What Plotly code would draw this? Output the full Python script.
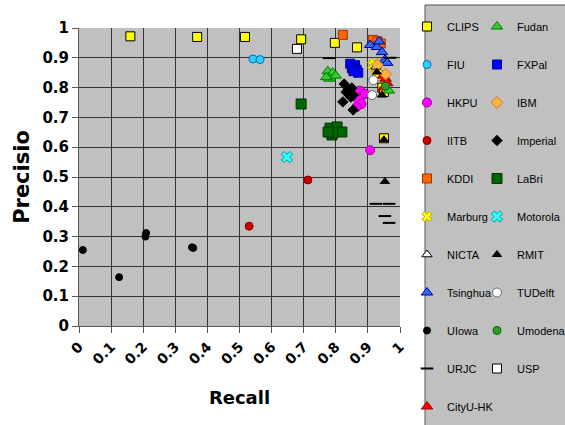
import plotly.graph_objects as go

# ---------------- data (recall, precision) ----------------
clips_recall = [0.160, 0.368, 0.517, 0.692, 0.797, 0.866, 0.950, 0.945, 0.950]
clips_precision = [0.972, 0.970, 0.970, 0.962, 0.950, 0.935, 0.630, 0.800, 0.785]

fudan_recall = [0.775, 0.790, 0.780, 0.800, 0.770, 0.965]
fudan_precision = [0.855, 0.850, 0.830, 0.840, 0.835, 0.790]

fiu_recall = [0.542, 0.564]
fiu_precision = [0.896, 0.894]

fxpal_recall = [0.845, 0.860, 0.850, 0.865, 0.870, 0.855]
fxpal_precision = [0.880, 0.875, 0.865, 0.860, 0.850, 0.855]

hkpu_recall = [0.875, 0.885, 0.870, 0.880, 0.865, 0.890, 0.907]
hkpu_precision = [0.790, 0.775, 0.760, 0.745, 0.735, 0.780, 0.590]

ibm_recall = [0.930, 0.955]
ibm_precision = [0.876, 0.845]

iitb_recall = [0.530, 0.713]
iitb_precision = [0.335, 0.490]

imperial_recall = [0.826, 0.838, 0.832, 0.850, 0.854, 0.822, 0.847, 0.854]
imperial_precision = [0.812, 0.792, 0.785, 0.799, 0.775, 0.752, 0.768, 0.725]

kddi_recall = [0.822, 0.915, 0.930, 0.940]
kddi_precision = [0.977, 0.960, 0.955, 0.948]

labri_recall = [0.692, 0.782, 0.804, 0.819, 0.788, 0.791, 0.776]
labri_precision = [0.745, 0.664, 0.668, 0.651, 0.641, 0.648, 0.651]

marburg_recall = [0.915, 0.925, 0.930, 0.935, 0.920]
marburg_precision = [0.875, 0.860, 0.845, 0.835, 0.880]

motorola_recall = [0.648]
motorola_precision = [0.567]

nicta_recall = [0.925]
nicta_precision = [0.870]

rmit_recall = [0.950, 0.953, 0.928, 0.944]
rmit_precision = [0.625, 0.485, 0.852, 0.775]

tsinghua_recall = [0.907, 0.928, 0.944, 0.953, 0.960, 0.935]
tsinghua_precision = [0.943, 0.936, 0.919, 0.893, 0.883, 0.955]

tudelft_recall = [0.917, 0.913]
tudelft_precision = [0.825, 0.775]

uiowa_recall = [0.012, 0.125, 0.207, 0.209, 0.352, 0.356]
uiowa_precision = [0.255, 0.164, 0.300, 0.312, 0.264, 0.262]

umodena_recall = [0.955]
umodena_precision = [0.805]

urjc_recall = [0.779, 0.969, 0.925, 0.966, 0.953, 0.966]
urjc_precision = [0.899, 0.900, 0.410, 0.410, 0.369, 0.346]

usp_recall = [0.679]
usp_precision = [0.930]

cityu_recall = [0.947, 0.955, 0.960, 0.950]
cityu_precision = [0.840, 0.830, 0.815, 0.800]

x_ticks = [0, 0.1, 0.2, 0.3, 0.4, 0.5, 0.6, 0.7, 0.8, 0.9, 1]
x_labels = ["0", "0.1", "0.2", "0.3", "0.4", "0.5", "0.6", "0.7", "0.8", "0.9", "1"]
y_ticks = [0, 0.1, 0.2, 0.3, 0.4, 0.5, 0.6, 0.7, 0.8, 0.9, 1]
y_labels = ["0", "0.1", "0.2", "0.3", "0.4", "0.5", "0.6", "0.7", "0.8", "0.9", "1"]

# name, x, y, symbol, fill, outline, size, legend
series = [
    ("CLIPS", clips_recall, clips_precision, "square", "#ffff00", "#000000", 9, "legend"),
    ("FIU", fiu_recall, fiu_precision, "circle", "#33ccff", "#0070c0", 8, "legend"),
    ("HKPU", hkpu_recall, hkpu_precision, "circle", "#ff00ff", "#990099", 9, "legend"),
    ("IITB", iitb_recall, iitb_precision, "circle", "#cc0000", "#800000", 8, "legend"),
    ("KDDI", kddi_recall, kddi_precision, "square", "#ff6600", "#993300", 9, "legend"),
    ("Marburg", marburg_recall, marburg_precision, "x", "#ffff00", "#aaaa00", 9, "legend"),
    ("NICTA", nicta_recall, nicta_precision, "triangle-up", "#ffffff", "#000000", 9, "legend"),
    ("Tsinghua", tsinghua_recall, tsinghua_precision, "triangle-up", "#3366ff", "#000080", 10, "legend"),
    ("UIowa", uiowa_recall, uiowa_precision, "circle", "#000000", "#000000", 7, "legend"),
    ("URJC", urjc_recall, urjc_precision, "line-ew", "#000000", "#000000", 9, "legend"),
    ("CityU-HK", cityu_recall, cityu_precision, "triangle-up", "#ff0000", "#990000", 10, "legend"),
    ("Fudan", fudan_recall, fudan_precision, "triangle-up", "#33cc33", "#007700", 10, "legend2"),
    ("FXPal", fxpal_recall, fxpal_precision, "square", "#0000ff", "#000099", 9, "legend2"),
    ("IBM", ibm_recall, ibm_precision, "diamond", "#ffb347", "#e07000", 9, "legend2"),
    ("Imperial", imperial_recall, imperial_precision, "diamond", "#000000", "#000000", 8, "legend2"),
    ("LaBri", labri_recall, labri_precision, "square", "#006600", "#003300", 10, "legend2"),
    ("Motorola", motorola_recall, motorola_precision, "x", "#33ffff", "#009999", 10, "legend2"),
    ("RMIT", rmit_recall, rmit_precision, "triangle-up", "#000000", "#000000", 8, "legend2"),
    ("TUDelft", tudelft_recall, tudelft_precision, "circle", "#ffffff", "#666666", 9, "legend2"),
    ("Umodena", umodena_recall, umodena_precision, "circle", "#339933", "#006600", 8, "legend2"),
    ("USP", usp_recall, usp_precision, "square", "#ffffff", "#000000", 9, "legend2"),
]

fig = go.Figure()
for name, xs, ys, sym, fill, edge, size, leg in series:
    lw = 2 if sym == "line-ew" else 1
    fig.add_trace(go.Scatter(
        x=xs, y=ys, mode="markers", name=name, legendgroup=name, legend=leg,
        marker=dict(symbol=sym, color=fill, size=size,
                    line=dict(color=edge, width=lw)),
    ))

W, H = 565, 425
L, R, T, B = 79, 165, 28, 99
pw, ph = W - L - R, H - T - B


def px_x(p):
    return (p - L) / pw


def px_y(p):
    return (H - B - p) / ph


legend_font = dict(family="Liberation Sans, Arial", size=11, color="#000000")
legend_common = dict(
    orientation="v", traceorder="grouped", tracegroupgap=19,
    bgcolor="rgba(0,0,0,0)", borderwidth=0, font=legend_font,
    itemwidth=30, xanchor="left", yanchor="top", itemclick=False,
    maxheight=430,
)

fig.update_layout(
    width=W, height=H,
    margin=dict(l=L, r=R, t=T, b=B, autoexpand=False),
    paper_bgcolor="#ffffff",
    plot_bgcolor="#c0c0c0",
    showlegend=True,
    legend=dict(x=px_x(407), y=px_y(12), **legend_common),
    legend2=dict(x=px_x(477), y=px_y(12), **legend_common),
    shapes=[dict(type="rect", xref="paper", yref="paper",
                 x0=px_x(425), x1=px_x(570), y0=px_y(430), y1=px_y(5),
                 fillcolor="#c0c0c0", line=dict(color="#555555", width=1),
                 layer="below")],
    xaxis=dict(
        range=[0, 1], tickvals=x_ticks, ticktext=x_labels, tickangle=-45,
        showgrid=True, gridcolor="#333333", gridwidth=1,
        zeroline=False, showline=True, linecolor="#555555", linewidth=1,
        ticks="outside", ticklen=6, tickcolor="#555555",
        tickfont=dict(family="DejaVu Sans", size=14, color="#000000", weight="bold"),
        title=dict(text="<b>Recall</b>", font=dict(family="DejaVu Sans", size=18, color="#000000"),
                   standoff=24),
    ),
    yaxis=dict(
        range=[0, 1], tickvals=y_ticks, ticktext=y_labels,
        showgrid=True, gridcolor="#333333", gridwidth=1,
        zeroline=False, showline=True, linecolor="#555555", linewidth=1,
        ticks="outside", ticklen=6, tickcolor="#555555",
        tickfont=dict(family="DejaVu Sans", size=15, color="#000000", weight="bold"),
        title=dict(text="<b>Precisio</b>", font=dict(family="DejaVu Sans", size=21, color="#000000"),
                   standoff=7),
    ),
)

fig.write_html("out.html")
